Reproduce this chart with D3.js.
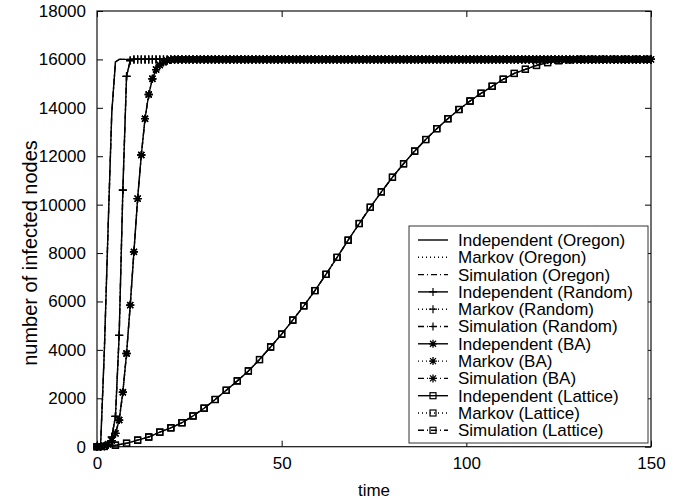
<!DOCTYPE html>
<meta charset="utf-8">
<body style="margin:0;background:#fff">
<svg id="chart" width="689" height="503"></svg>
<script src="https://cdnjs.cloudflare.com/ajax/libs/d3/7.8.5/d3.min.js"></script>
<script>

  // ---- data ----
  var yTicks = [0, 2000, 4000, 6000, 8000, 10000, 12000, 14000, 16000, 18000]
  var xTicks = [0, 50, 100, 150]

  // Oregon, Random, BA: one value per time step 0..150
  var oregonCounts = [
    0, 150, 4000, 9000, 13800, 15900, 16000, 16000, 16000, 16000,
    16000, 16000, 16000, 16000, 16000, 16000, 16000, 16000, 16000, 16000,
    16000, 16000, 16000, 16000, 16000, 16000, 16000, 16000, 16000, 16000,
    16000, 16000, 16000, 16000, 16000, 16000, 16000, 16000, 16000, 16000,
    16000, 16000, 16000, 16000, 16000, 16000, 16000, 16000, 16000, 16000,
    16000, 16000, 16000, 16000, 16000, 16000, 16000, 16000, 16000, 16000,
    16000, 16000, 16000, 16000, 16000, 16000, 16000, 16000, 16000, 16000,
    16000, 16000, 16000, 16000, 16000, 16000, 16000, 16000, 16000, 16000,
    16000, 16000, 16000, 16000, 16000, 16000, 16000, 16000, 16000, 16000,
    16000, 16000, 16000, 16000, 16000, 16000, 16000, 16000, 16000, 16000,
    16000, 16000, 16000, 16000, 16000, 16000, 16000, 16000, 16000, 16000,
    16000, 16000, 16000, 16000, 16000, 16000, 16000, 16000, 16000, 16000,
    16000, 16000, 16000, 16000, 16000, 16000, 16000, 16000, 16000, 16000,
    16000, 16000, 16000, 16000, 16000, 16000, 16000, 16000, 16000, 16000,
    16000, 16000, 16000, 16000, 16000, 16000, 16000, 16000, 16000, 16000,
    16000
  ]

  var randomCounts = [
    0, 5, 20, 80, 400, 1250, 4600, 10600, 15300, 15950,
    16000, 16000, 16000, 16000, 16000, 16000, 16000, 16000, 16000, 16000,
    16000, 16000, 16000, 16000, 16000, 16000, 16000, 16000, 16000, 16000,
    16000, 16000, 16000, 16000, 16000, 16000, 16000, 16000, 16000, 16000,
    16000, 16000, 16000, 16000, 16000, 16000, 16000, 16000, 16000, 16000,
    16000, 16000, 16000, 16000, 16000, 16000, 16000, 16000, 16000, 16000,
    16000, 16000, 16000, 16000, 16000, 16000, 16000, 16000, 16000, 16000,
    16000, 16000, 16000, 16000, 16000, 16000, 16000, 16000, 16000, 16000,
    16000, 16000, 16000, 16000, 16000, 16000, 16000, 16000, 16000, 16000,
    16000, 16000, 16000, 16000, 16000, 16000, 16000, 16000, 16000, 16000,
    16000, 16000, 16000, 16000, 16000, 16000, 16000, 16000, 16000, 16000,
    16000, 16000, 16000, 16000, 16000, 16000, 16000, 16000, 16000, 16000,
    16000, 16000, 16000, 16000, 16000, 16000, 16000, 16000, 16000, 16000,
    16000, 16000, 16000, 16000, 16000, 16000, 16000, 16000, 16000, 16000,
    16000, 16000, 16000, 16000, 16000, 16000, 16000, 16000, 16000, 16000,
    16000
  ]

  var baCounts = [
    0, 10, 30, 100, 250, 550, 1100, 2250, 3850, 5850,
    8050, 10250, 12050, 13550, 14550, 15200, 15580, 15770, 15880, 15950,
    15990, 16000, 16000, 16000, 16000, 16000, 16000, 16000, 16000, 16000,
    16000, 16000, 16000, 16000, 16000, 16000, 16000, 16000, 16000, 16000,
    16000, 16000, 16000, 16000, 16000, 16000, 16000, 16000, 16000, 16000,
    16000, 16000, 16000, 16000, 16000, 16000, 16000, 16000, 16000, 16000,
    16000, 16000, 16000, 16000, 16000, 16000, 16000, 16000, 16000, 16000,
    16000, 16000, 16000, 16000, 16000, 16000, 16000, 16000, 16000, 16000,
    16000, 16000, 16000, 16000, 16000, 16000, 16000, 16000, 16000, 16000,
    16000, 16000, 16000, 16000, 16000, 16000, 16000, 16000, 16000, 16000,
    16000, 16000, 16000, 16000, 16000, 16000, 16000, 16000, 16000, 16000,
    16000, 16000, 16000, 16000, 16000, 16000, 16000, 16000, 16000, 16000,
    16000, 16000, 16000, 16000, 16000, 16000, 16000, 16000, 16000, 16000,
    16000, 16000, 16000, 16000, 16000, 16000, 16000, 16000, 16000, 16000,
    16000, 16000, 16000, 16000, 16000, 16000, 16000, 16000, 16000, 16000,
    16000
  ]

  // Lattice is sampled every third step
  var latticeTimes = [
    0, 2, 5, 8, 11, 14, 17, 20, 23, 26, 29, 32, 35, 38, 41, 44, 47, 50,
    53, 56, 59, 62, 65, 68, 71, 74, 77, 80, 83, 86, 89, 92, 95, 98, 101,
    104, 107, 110, 113, 116, 119, 122, 125, 128, 131, 134, 137, 140, 143,
    146, 149
  ]
  var latticeCounts = [
    0, 10, 60, 140, 270, 400, 600, 780, 990, 1270, 1590, 1950, 2330, 2720,
    3130, 3600, 4120, 4650, 5230, 5820, 6450, 7120, 7820, 8530, 9220, 9890,
    10530, 11130, 11690, 12210, 12690, 13140, 13550, 13930, 14280, 14600,
    14890, 15180, 15420, 15590, 15750, 15870, 15950, 15990, 16000, 16000,
    16000, 16000, 16000, 16000, 16000
  ]

  var networks = ['Oregon', 'Random', 'BA', 'Lattice']
  var models = ['Independent', 'Markov', 'Simulation']

  // ---- layout ----
  var svg = d3.select('#chart')
  var font = 'Liberation Sans, Arial, Helvetica, sans-serif'

  var x = d3.scaleLinear().domain([0, 150]).range([97, 651])
  var y = d3.scaleLinear().domain([0, 18000]).range([446.7, 11])

  var steps = d3.range(0, 151)
  var seriesPoints = {
    Oregon: steps.map((t, i) => [t, oregonCounts[i]]),
    Random: steps.map((t, i) => [t, randomCounts[i]]),
    BA: steps.map((t, i) => [t, baCounts[i]]),
    Lattice: latticeTimes.map((t, i) => [t, latticeCounts[i]])
  }

  var dashes = { Independent: null, Markov: '1,3', Simulation: '6,3,1,3' }

  // markers
  function drawMarker(g, type, cx, cy) {
    if (type === 'Random') {
      g.append('path').attr('d', `M${cx - 4},${cy}H${cx + 4}M${cx},${cy - 4}V${cy + 4}`)
        .attr('stroke', '#000').attr('stroke-width', 1.2)
    } else if (type === 'BA') {
      g.append('path').attr('d', `M${cx - 4},${cy}H${cx + 4}M${cx},${cy - 4}V${cy + 4}M${cx - 3},${cy - 3}L${cx + 3},${cy + 3}M${cx - 3},${cy + 3}L${cx + 3},${cy - 3}`)
        .attr('stroke', '#000').attr('stroke-width', 1.3)
    } else if (type === 'Lattice') {
      g.append('rect').attr('x', cx - 3).attr('y', cy - 3).attr('width', 6).attr('height', 6)
        .attr('fill', 'none').attr('stroke', '#000').attr('stroke-width', 1.2)
    }
  }

  // axes (ticks inward on all four sides)
  var fmt = d3.format('d')
  svg.append('g')
    .attr('transform', 'translate(97,0)')
    .call(d3.axisLeft(y).tickValues(yTicks).tickFormat(fmt).tickSizeInner(-6).tickSizeOuter(0).tickPadding(11))
  svg.append('g')
    .attr('transform', 'translate(651,0)')
    .call(d3.axisRight(y).tickValues(yTicks).tickSizeInner(-6).tickSizeOuter(0).tickFormat(''))
  svg.append('g')
    .attr('transform', 'translate(0,446.7)')
    .call(d3.axisBottom(x).tickValues(xTicks).tickFormat(fmt).tickSizeInner(-6).tickSizeOuter(0).tickPadding(10))
  svg.append('g')
    .attr('transform', 'translate(0,11)')
    .call(d3.axisTop(x).tickValues(xTicks).tickSizeInner(-6).tickSizeOuter(0).tickFormat(''))

  svg.selectAll('.domain').remove()
  svg.selectAll('.tick line').attr('stroke', '#000')
  svg.selectAll('.tick text').style('font-family', font).style('font-size', '17px').attr('fill', '#000')

  svg.append('rect')
    .attr('x', 97).attr('y', 11).attr('width', 651 - 97).attr('height', 446.7 - 11)
    .attr('fill', 'none').attr('stroke', '#111').attr('stroke-width', 1.2)

  // curves
  var line = d3.line().x(d => x(d[0])).y(d => y(d[1]))
  var plot = svg.append('g')

  networks.forEach(function (net) {
    models.forEach(function (m) {
      plot.append('path')
        .datum(seriesPoints[net])
        .attr('d', line)
        .attr('fill', 'none')
        .attr('stroke', '#000')
        .attr('stroke-width', 1.4)
        .attr('stroke-dasharray', dashes[m])
      if (net !== 'Oregon') {
        var mg = plot.append('g')
        seriesPoints[net].forEach(p => drawMarker(mg, net, x(p[0]), y(p[1])))
      }
    })
  })

  // legend
  var legend = svg.append('g')
  legend.append('rect')
    .attr('x', 409).attr('y', 226).attr('width', 239).attr('height', 217)
    .attr('fill', '#fff').attr('stroke', '#333').attr('stroke-width', 1)

  var rowGap = 17.3
  var rowTop = 240
  networks.forEach(function (net, ni) {
    models.forEach(function (m, mi) {
      var k = ni * 3 + mi
      var ry = rowTop + k * rowGap
      legend.append('line')
        .attr('x1', 418).attr('x2', 448).attr('y1', ry).attr('y2', ry)
        .attr('stroke', '#000').attr('stroke-width', 1.4)
        .attr('stroke-dasharray', dashes[m])
      drawMarker(legend, net, 433, ry)
      legend.append('text')
        .attr('x', 458).attr('y', ry).attr('dy', '0.35em')
        .style('font-family', font).style('font-size', '17px')
        .text(m + ' (' + net + ')')
    })
  })

  // axis titles
  svg.append('text')
    .attr('x', 374).attr('y', 496)
    .attr('text-anchor', 'middle')
    .style('font-family', font).style('font-size', '17px')
    .text('time')

  svg.append('text')
    .attr('transform', 'translate(37,253) rotate(-90)')
    .attr('text-anchor', 'middle')
    .style('font-family', font).style('font-size', '20px')
    .text('number of infected nodes')

</script>
